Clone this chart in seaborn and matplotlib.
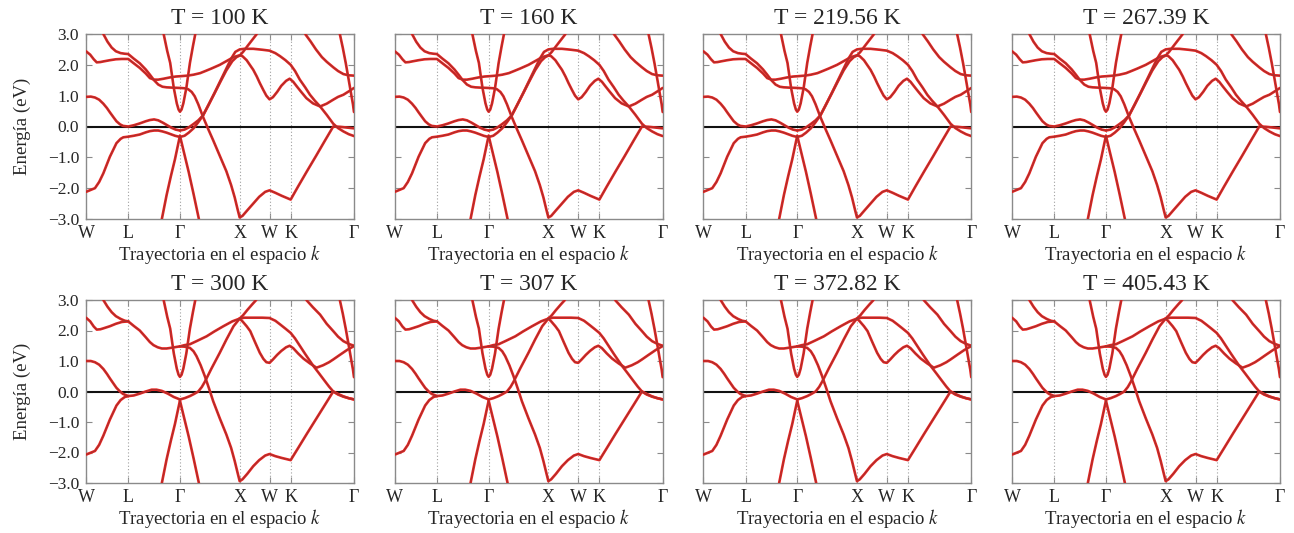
import matplotlib
matplotlib.use("Agg")
import matplotlib.pyplot as plt
import pandas as pd
import seaborn as sns

# ---------------------------------------------------------------- data
temperatures = ["100", "160", "219.56", "267.39", "300", "307", "372.82", "405.43"]
ordered_until = 300.0          # panels below this temperature use the split bands

kpath_labels = ["W", "L", "Γ", "X", "W", "K", "Γ"]
kpath_ticks = [0.0, 0.7071, 1.5731, 2.5731, 3.0731, 3.4267, 4.4874]
energy_ticks = [-3.0, -2.0, -1.0, 0.0, 1.0, 2.0, 3.0]

# bands present in every panel (k along the path, energy in eV)
v_gamma = [(1.30, 3.0), (1.36, 2.45), (1.41, 2.06), (1.47, 1.25), (1.52, 0.75), (1.55, 0.55),
           (1.573, 0.48), (1.60, 0.55), (1.63, 0.75), (1.68, 1.25), (1.74, 2.06), (1.79, 2.6), (1.83, 3.0)]
down_left = [(1.573, -0.30), (1.54, -0.60), (1.49, -1.06), (1.42, -1.62), (1.35, -2.22), (1.27, -3.0)]
down_right = [(1.573, -0.30), (1.61, -0.60), (1.66, -1.00), (1.72, -1.48), (1.80, -2.18), (1.89, -3.0)]
steep_right = [(4.25, 3.0), (4.30, 2.55), (4.35, 2.05), (4.40, 1.50), (4.44, 1.05), (4.47, 0.72), (4.487, 0.47)]

# split bands (low temperature)
fm_w_low = [(0.00, -2.12), (0.15, -2.00), (0.22, -1.80), (0.29, -1.52), (0.40, -0.98), (0.51, -0.54),
            (0.58, -0.40), (0.625, -0.35), (0.707, -0.33), (0.80, -0.30), (0.90, -0.26), (1.00, -0.19),
            (1.07, -0.15), (1.14, -0.13), (1.21, -0.13), (1.28, -0.16), (1.35, -0.20), (1.42, -0.25),
            (1.49, -0.30), (1.573, -0.34)]
fm_w_one = [(0.00, 0.96), (0.08, 0.97), (0.15, 0.94), (0.22, 0.87), (0.29, 0.74), (0.35, 0.60),
            (0.40, 0.46), (0.46, 0.30), (0.51, 0.17), (0.57, 0.07), (0.62, 0.02), (0.707, 0.0),
            (0.80, 0.04), (0.90, 0.10), (1.00, 0.17), (1.07, 0.21), (1.14, 0.23), (1.21, 0.20),
            (1.29, 0.12), (1.36, 0.04), (1.43, -0.04), (1.50, -0.10), (1.573, -0.13)]
fm_gx_up = [(1.573, -0.13), (1.65, -0.10), (1.72, -0.03), (1.80, 0.08), (1.88, 0.20), (1.96, 0.36),
            (2.05, 0.70), (2.15, 1.07), (2.25, 1.45), (2.35, 1.82), (2.45, 2.12), (2.52, 2.25),
            (2.573, 2.30), (2.63, 2.42), (2.70, 2.60), (2.78, 2.80), (2.86, 3.0)]
fm_gx_low = [(1.573, -0.34), (1.65, -0.30), (1.72, -0.20), (1.80, -0.06), (1.88, 0.14), (1.96, 0.36),
             (2.05, 0.69), (2.15, 1.08), (2.25, 1.48), (2.35, 1.88), (2.43, 2.20), (2.50, 2.42),
             (2.573, 2.50), (2.65, 2.52), (2.80, 2.52), (2.95, 2.49), (3.073, 2.46), (3.17, 2.38),
             (3.25, 2.28), (3.34, 2.15), (3.427, 2.00), (3.50, 1.80), (3.58, 1.52), (3.67, 1.27),
             (3.75, 1.03), (3.83, 0.84), (3.92, 0.65), (4.03, 0.38), (4.14, 0.09), (4.22, -0.05),
             (4.31, -0.16), (4.40, -0.25), (4.487, -0.31)]
fm_l_top = [(0.29, 3.0), (0.36, 2.75), (0.43, 2.56), (0.50, 2.44), (0.58, 2.38), (0.65, 2.36),
            (0.707, 2.35), (0.80, 2.20), (0.90, 2.05), (1.00, 1.85), (1.07, 1.68), (1.14, 1.50),
            (1.21, 1.36), (1.28, 1.29), (1.35, 1.27), (1.45, 1.26), (1.573, 1.25), (1.65, 1.24),
            (1.71, 1.21), (1.77, 1.12), (1.82, 0.98), (1.88, 0.72), (1.96, 0.31), (2.05, -0.10),
            (2.13, -0.45), (2.24, -0.95), (2.35, -1.45), (2.43, -1.90), (2.49, -2.30), (2.54, -2.70),
            (2.573, -2.95), (2.62, -2.90), (2.70, -2.72), (2.80, -2.50), (2.90, -2.28), (3.00, -2.12),
            (3.073, -2.07), (3.17, -2.15), (3.28, -2.25), (3.427, -2.37), (3.55, -1.95), (3.70, -1.45),
            (3.85, -0.96), (4.00, -0.46), (4.14, 0.0), (4.25, -0.01), (4.35, -0.03), (4.487, -0.06)]
fm_w_upper = [(0.00, 2.44), (0.07, 2.33), (0.13, 2.18), (0.18, 2.08), (0.24, 2.09), (0.29, 2.11),
              (0.40, 2.15), (0.50, 2.18), (0.60, 2.19), (0.707, 2.19), (0.80, 2.05), (0.90, 1.90),
              (1.00, 1.72), (1.07, 1.57), (1.14, 1.52), (1.21, 1.52), (1.30, 1.55), (1.40, 1.59),
              (1.50, 1.62), (1.573, 1.63), (1.70, 1.65), (1.80, 1.68), (1.91, 1.73), (2.00, 1.80),
              (2.10, 1.88), (2.24, 2.00), (2.36, 2.13), (2.47, 2.25), (2.573, 2.31), (2.62, 2.28),
              (2.69, 2.15), (2.75, 1.98), (2.80, 1.84), (2.86, 1.62), (2.91, 1.41), (2.97, 1.18),
              (3.02, 1.00), (3.073, 0.88), (3.13, 0.95), (3.20, 1.12), (3.27, 1.32), (3.35, 1.48),
              (3.41, 1.55), (3.47, 1.45), (3.53, 1.30), (3.60, 1.13), (3.69, 0.92), (3.80, 0.75),
              (3.92, 0.65), (4.03, 0.74), (4.14, 0.87), (4.22, 0.96), (4.31, 1.03), (4.40, 1.14),
              (4.487, 1.25)]
fm_top_right = [(3.67, 3.0), (3.76, 2.76), (3.85, 2.50), (3.95, 2.25), (4.03, 2.10), (4.14, 1.92),
                (4.22, 1.80), (4.31, 1.70), (4.40, 1.66), (4.487, 1.65)]

# merged bands (high temperature)
pm_w_low = [(0.00, -2.07), (0.15, -1.95), (0.22, -1.75), (0.29, -1.45), (0.40, -0.92), (0.51, -0.46),
            (0.58, -0.28), (0.65, -0.18), (0.707, -0.15)]
pm_w_one = [(0.00, 1.00), (0.08, 1.00), (0.15, 0.96), (0.22, 0.88), (0.29, 0.74), (0.35, 0.58),
            (0.40, 0.43), (0.46, 0.26), (0.51, 0.12), (0.57, 0.0), (0.62, -0.08), (0.707, -0.15)]
pm_lg_low = [(0.707, -0.15), (0.80, -0.13), (0.90, -0.07), (1.00, 0.0), (1.10, 0.06), (1.18, 0.06),
             (1.27, 0.02), (1.37, -0.07), (1.47, -0.18), (1.573, -0.26)]
pm_gx_rise = [(1.573, -0.26), (1.65, -0.22), (1.74, -0.15), (1.81, -0.08), (1.88, 0.0), (1.94, 0.15),
              (1.99, 0.32), (2.10, 0.75), (2.24, 1.27), (2.35, 1.70), (2.47, 2.14), (2.573, 2.39),
              (2.63, 2.50), (2.70, 2.67), (2.78, 2.85), (2.85, 3.0)]
pm_xwkg_flat = [(2.573, 2.39), (2.65, 2.42), (2.80, 2.42), (2.95, 2.42), (3.073, 2.41), (3.17, 2.32),
                (3.25, 2.20), (3.34, 2.06), (3.427, 1.92), (3.50, 1.74), (3.58, 1.50), (3.67, 1.23),
                (3.75, 1.00), (3.81, 0.83), (3.90, 0.60), (4.00, 0.34), (4.07, 0.16), (4.14, 0.0),
                (4.22, -0.10), (4.31, -0.17), (4.40, -0.22), (4.487, -0.26)]
pm_xwkg_mid = [(2.573, 2.39), (2.62, 2.30), (2.69, 2.14), (2.75, 1.98), (2.83, 1.62), (2.91, 1.27),
               (2.97, 1.07), (3.02, 0.96), (3.073, 0.94), (3.13, 1.05), (3.20, 1.20), (3.27, 1.33),
               (3.35, 1.45), (3.41, 1.50), (3.47, 1.42), (3.55, 1.25), (3.64, 1.08), (3.75, 0.92),
               (3.86, 0.78), (3.97, 0.86), (4.07, 0.96), (4.14, 1.05), (4.25, 1.20), (4.37, 1.36),
               (4.487, 1.49)]
pm_bottom = [(1.573, 1.48), (1.65, 1.47), (1.74, 1.43), (1.80, 1.32), (1.85, 1.16), (1.92, 0.86),
             (1.99, 0.50), (2.06, 0.10), (2.13, -0.32), (2.24, -0.88), (2.35, -1.41), (2.43, -1.85),
             (2.49, -2.28), (2.54, -2.68), (2.573, -2.94), (2.62, -2.88), (2.70, -2.70), (2.80, -2.45),
             (2.90, -2.25), (3.00, -2.10), (3.073, -2.05), (3.17, -2.12), (3.28, -2.18), (3.427, -2.25),
             (3.55, -1.86), (3.70, -1.38), (3.85, -0.91), (4.00, -0.44), (4.14, 0.0), (4.22, -0.08),
             (4.31, -0.16), (4.40, -0.22), (4.487, -0.26)]
pm_l_top = [(0.29, 3.0), (0.36, 2.78), (0.43, 2.60), (0.50, 2.47), (0.58, 2.38), (0.65, 2.32), (0.707, 2.30)]
pm_w_upper = [(0.00, 2.42), (0.07, 2.30), (0.13, 2.13), (0.18, 2.03), (0.24, 2.04), (0.29, 2.07),
              (0.40, 2.14), (0.50, 2.22), (0.60, 2.28), (0.707, 2.30)]
pm_lg_upper = [(0.707, 2.30), (0.80, 2.15), (0.90, 2.00), (1.00, 1.78), (1.07, 1.62), (1.13, 1.52),
               (1.20, 1.45), (1.27, 1.41), (1.35, 1.41), (1.45, 1.44), (1.573, 1.48)]
pm_gx_upper = [(1.573, 1.48), (1.65, 1.52), (1.74, 1.55), (1.85, 1.65), (2.02, 1.81), (2.15, 1.97),
               (2.30, 2.14), (2.45, 2.30), (2.573, 2.39)]
pm_top_right = [(3.69, 3.0), (3.80, 2.76), (3.92, 2.52), (4.03, 2.22), (4.14, 1.98), (4.22, 1.80),
                (4.31, 1.65), (4.40, 1.56), (4.487, 1.50)]

shared_bands = [v_gamma, down_left, down_right, steep_right]
split_bands = [fm_w_low, fm_w_one, fm_gx_up, fm_gx_low, fm_l_top, fm_w_upper, fm_top_right]
merged_bands = [pm_w_low, pm_w_one, pm_lg_low, pm_gx_rise, pm_xwkg_flat, pm_xwkg_mid, pm_bottom,
                pm_l_top, pm_w_upper, pm_lg_upper, pm_gx_upper, pm_top_right]


def band_frame(bands):
    rows = []
    for i, band in enumerate(bands):
        for k, e in band:
            rows.append({"band": i, "k": k, "E": e})
    return pd.DataFrame(rows)


split_df = band_frame(shared_bands + split_bands)
merged_df = band_frame(shared_bands + merged_bands)

# ---------------------------------------------------------------- style
sns.set_theme(style="ticks")
plt.rcParams["font.family"] = ["Liberation Serif", "DejaVu Serif"]
plt.rcParams["mathtext.fontset"] = "stix"
plt.rcParams["axes.edgecolor"] = "#8a8a8a"
plt.rcParams["axes.linewidth"] = 1.0

fig = plt.figure(figsize=(12.94, 5.33), dpi=100)
W, H = 1294.0, 533.0
lefts = [86.0, 394.7, 703.3, 1012.0]
rows_px = [(34.0, 219.0), (300.0, 483.0)]
panel_w = 268.0

halo_color = "#ec2320"
core_color = "#a8302e"

for idx, temp in enumerate(temperatures):
    r, c = divmod(idx, 4)
    top, bottom = rows_px[r]
    ax = fig.add_axes([lefts[c] / W, 1 - bottom / H, panel_w / W, (bottom - top) / H])

    df = split_df if float(temp) < ordered_until else merged_df

    for xv in kpath_ticks[1:-1]:
        ax.axvline(xv, color="#a0a0a0", lw=0.8, ls=(0, (1, 2)), zorder=1)
    ax.axhline(0.0, color="#111111", lw=1.5, zorder=2)

    sns.lineplot(data=df, x="k", y="E", units="band", estimator=None, sort=False,
                 color=halo_color, lw=1.9, ax=ax, legend=False, zorder=3)
    sns.lineplot(data=df, x="k", y="E", units="band", estimator=None, sort=False,
                 color=core_color, lw=0.8, ax=ax, legend=False, zorder=4)

    ax.set_xlim(kpath_ticks[0], kpath_ticks[-1])
    ax.set_ylim(-3.0, 3.0)
    ax.set_xticks(kpath_ticks)
    ax.set_xticklabels(kpath_labels, fontsize=13)
    ax.set_yticks(energy_ticks)
    if c == 0:
        ax.set_yticklabels([f"{v:.1f}".replace("-", "\u2212") for v in energy_ticks], fontsize=12.5)
        ax.set_ylabel("Energía (eV)", fontsize=13.5, labelpad=12)
    else:
        ax.set_yticklabels([])
        ax.set_ylabel("")
    ax.tick_params(axis="y", direction="in", length=4, width=0.8, color="#8a8a8a",
                   left=True, right=True, pad=5)
    ax.tick_params(axis="x", direction="in", length=4, width=0.8, color="#8a8a8a",
                   bottom=True, top=True, pad=4)
    ax.set_xlabel("Trayectoria en el espacio $k$", fontsize=13.5, labelpad=1)
    ax.set_title(f"T = {temp} K", fontsize=17, pad=7)
    for s in ax.spines.values():
        s.set_color("#8a8a8a")

fig.savefig("out.png", dpi=100)
